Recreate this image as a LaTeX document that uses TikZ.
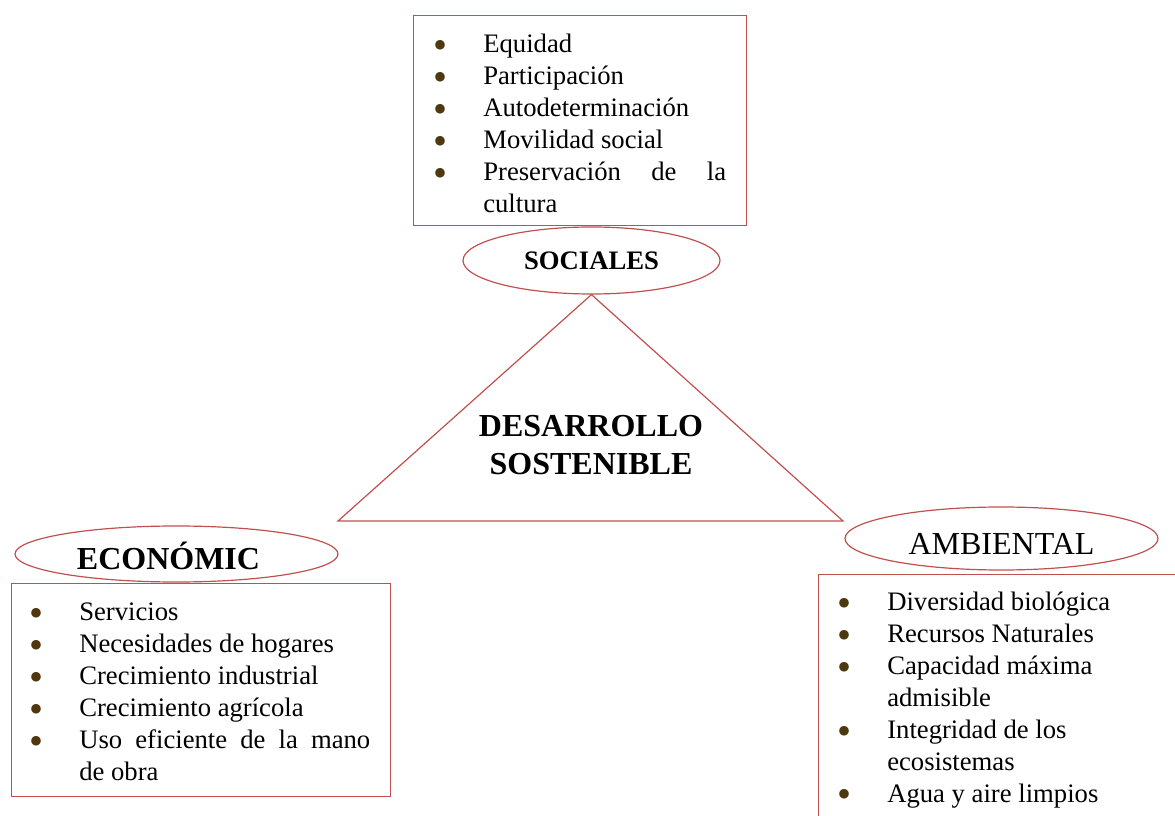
\documentclass[tikz,border=0pt]{standalone}
\usepackage{fontspec}
\setmainfont{Liberation Serif}
\usepackage{graphicx}
\usepackage{tikz}
\usetikzlibrary{shapes, shapes.geometric, positioning}
\definecolor{redLine}{RGB}{192,80,77}
\definecolor{bulBrown}{RGB}{79,56,15}
\hyphenpenalty=10000
\exhyphenpenalty=10000
\newlength{\itmInd}
\setlength{\itmInd}{37pt}
\newcommand{\bul}{\textcolor{bulBrown}{\raisebox{-4.5pt}{\scalebox{1.5}{\textbullet}}}}
\newcommand{\itm}[1]{\spaceskip=5pt plus 5pt minus 0pt\relax
    \noindent\hangindent=\itmInd\hangafter=1\makebox[\itmInd][l]{\bul}#1\par}
\tikzset{
    boxR/.style={draw=redLine, line width=0.9pt, inner sep=0pt, anchor=north west},
    ellR/.style={draw=redLine, line width=0.9pt, ellipse, inner sep=0pt},
    listT/.style={anchor=base west, inner sep=0pt, font=\fontsize{20}{24}\selectfont}
}

\begin{document}
\begin{tikzpicture}[x=0.75pt, y=-0.75pt]
    \useasboundingbox (0,0) rectangle (1175,816);
    % boxes
    \node[boxR, minimum width=249.75pt, minimum height=157.5pt] (socBox) at (413,15) {};
    \node[boxR, minimum width=284.25pt, minimum height=159.75pt] (ecoBox) at (11,583) {};
    \node[boxR, minimum width=271.5pt, minimum height=192pt] (ambBox) at (818,574) {};
    % ellipses
    \node[ellR, minimum width=192.75pt, minimum height=50.25pt, font=\fontsize{20}{24}\selectfont\bfseries] (soc) at (591.5,260.5) {SOCIALES};
    \node[ellR, minimum width=242.25pt, minimum height=42pt] (eco) at (176.5,554) {};
    \node[ellR, minimum width=234.75pt, minimum height=47.25pt] (amb) at (1001.5,538.5) {};
    \node[font=\fontsize{24}{28}\selectfont\bfseries, inner sep=0pt] (ecoLbl) at (168.5,556) {ECONÓMIC};
    \node[font=\fontsize{24}{28}\selectfont, inner sep=0pt] (ambLbl) at (1001.5,543.5) {AMBIENTAL};
    % triangle
    \coordinate (tl) at (338,521);
    \coordinate (tr) at (843,521);
    \draw[redLine, line width=0.9pt, line join=miter] (soc.south) -- (tl) -- (tr) -- cycle;
    \node[font=\fontsize{24}{28.4}\selectfont\bfseries, align=center] (core) at (591,445) {DESARROLLO\\SOSTENIBLE};
    % lists
    \node[listT, text width=219.2pt, align=justify] (socList) at (433.7,52.3)
        {\itm{Equidad}\itm{Participación}\itm{Autodeterminación}\itm{Movilidad social}\itm{Preservación de la cultura}};
    \node[listT, text width=255.2pt, align=justify] (ecoList) at (29.7,620)
        {\itm{Servicios}\itm{Necesidades de hogares}\itm{Crecimiento industrial}\itm{Crecimiento agrícola}\itm{Uso eficiente de la mano de obra}};
    \node[listT, text width=237pt, align=flush left] (ambList) at (837.7,610)
        {\itm{Diversidad biológica}\itm{Recursos Naturales}\itm{Capacidad máxima admisible}\itm{Integridad de los ecosistemas}\itm{Agua y aire limpios}};
\end{tikzpicture}
\end{document}
